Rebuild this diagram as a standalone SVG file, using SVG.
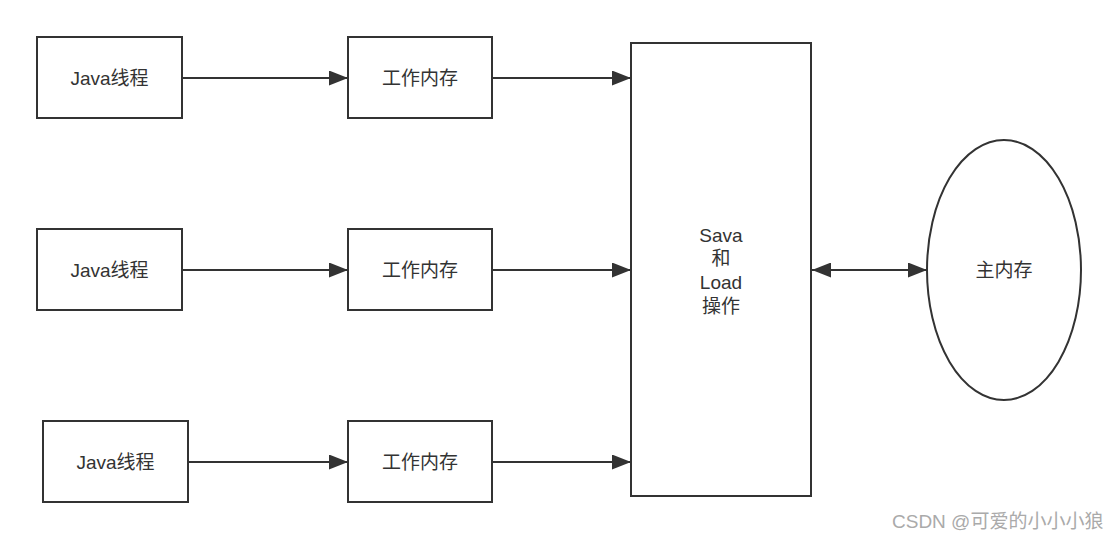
<svg xmlns="http://www.w3.org/2000/svg" width="1119" height="540" viewBox="0 0 1119 540">
<defs>
<style>
.box{fill:#fff;stroke:#333;stroke-width:2}
.t{font-family:"Liberation Sans","Noto Sans CJK SC",sans-serif;font-size:19px;fill:#333;text-anchor:middle}
.c{stroke:#333;stroke-width:2;fill:none}
.wm{font-family:"Liberation Sans","Noto Sans CJK SC",sans-serif;font-size:19px;fill:#aaa}
</style>
<marker id="ah" markerWidth="19" markerHeight="15" refX="19" refY="7.5" orient="auto-start-reverse" markerUnits="userSpaceOnUse">
<path d="M0,0 L19,7.5 L0,15 Z" fill="#333"/>
</marker>
</defs>
<rect width="1119" height="540" fill="#fff"/>
<g id="connectors">
<line class="c" x1="182" y1="78" x2="348" y2="78" marker-end="url(#ah)"/>
<line class="c" x1="182" y1="270" x2="348" y2="270" marker-end="url(#ah)"/>
<line class="c" x1="188" y1="462" x2="348" y2="462" marker-end="url(#ah)"/>
<line class="c" x1="492" y1="78" x2="631" y2="78" marker-end="url(#ah)"/>
<line class="c" x1="492" y1="270" x2="631" y2="270" marker-end="url(#ah)"/>
<line class="c" x1="492" y1="462" x2="631" y2="462" marker-end="url(#ah)"/>
<line class="c" x1="812" y1="270" x2="927" y2="270" marker-start="url(#ah)" marker-end="url(#ah)"/>
</g>
<g id="java1"><rect class="box" x="37" y="37" width="145" height="81"/><text class="t" x="109.5" y="85">Java线程</text></g>
<g id="java2"><rect class="box" x="37" y="229" width="145" height="81"/><text class="t" x="109.5" y="277">Java线程</text></g>
<g id="java3"><rect class="box" x="43" y="421" width="145" height="81"/><text class="t" x="115.5" y="469">Java线程</text></g>
<g id="work1"><rect class="box" x="348" y="37" width="144" height="81"/><text class="t" x="420" y="85">工作内存</text></g>
<g id="work2"><rect class="box" x="348" y="229" width="144" height="81"/><text class="t" x="420" y="277">工作内存</text></g>
<g id="work3"><rect class="box" x="348" y="421" width="144" height="81"/><text class="t" x="420" y="469">工作内存</text></g>
<g id="saveload"><rect class="box" x="631" y="43" width="180" height="453"/>
<text class="t" x="721" y="242">Sava</text>
<text class="t" x="721" y="265">和</text>
<text class="t" x="721" y="289">Load</text>
<text class="t" x="721" y="313">操作</text>
</g>
<g id="mainmem"><ellipse class="box" cx="1004" cy="270" rx="77" ry="130"/><text class="t" x="1004" y="277">主内存</text></g>
<text class="wm" x="892" y="528">CSDN @可爱的小小小狼</text>
</svg>
